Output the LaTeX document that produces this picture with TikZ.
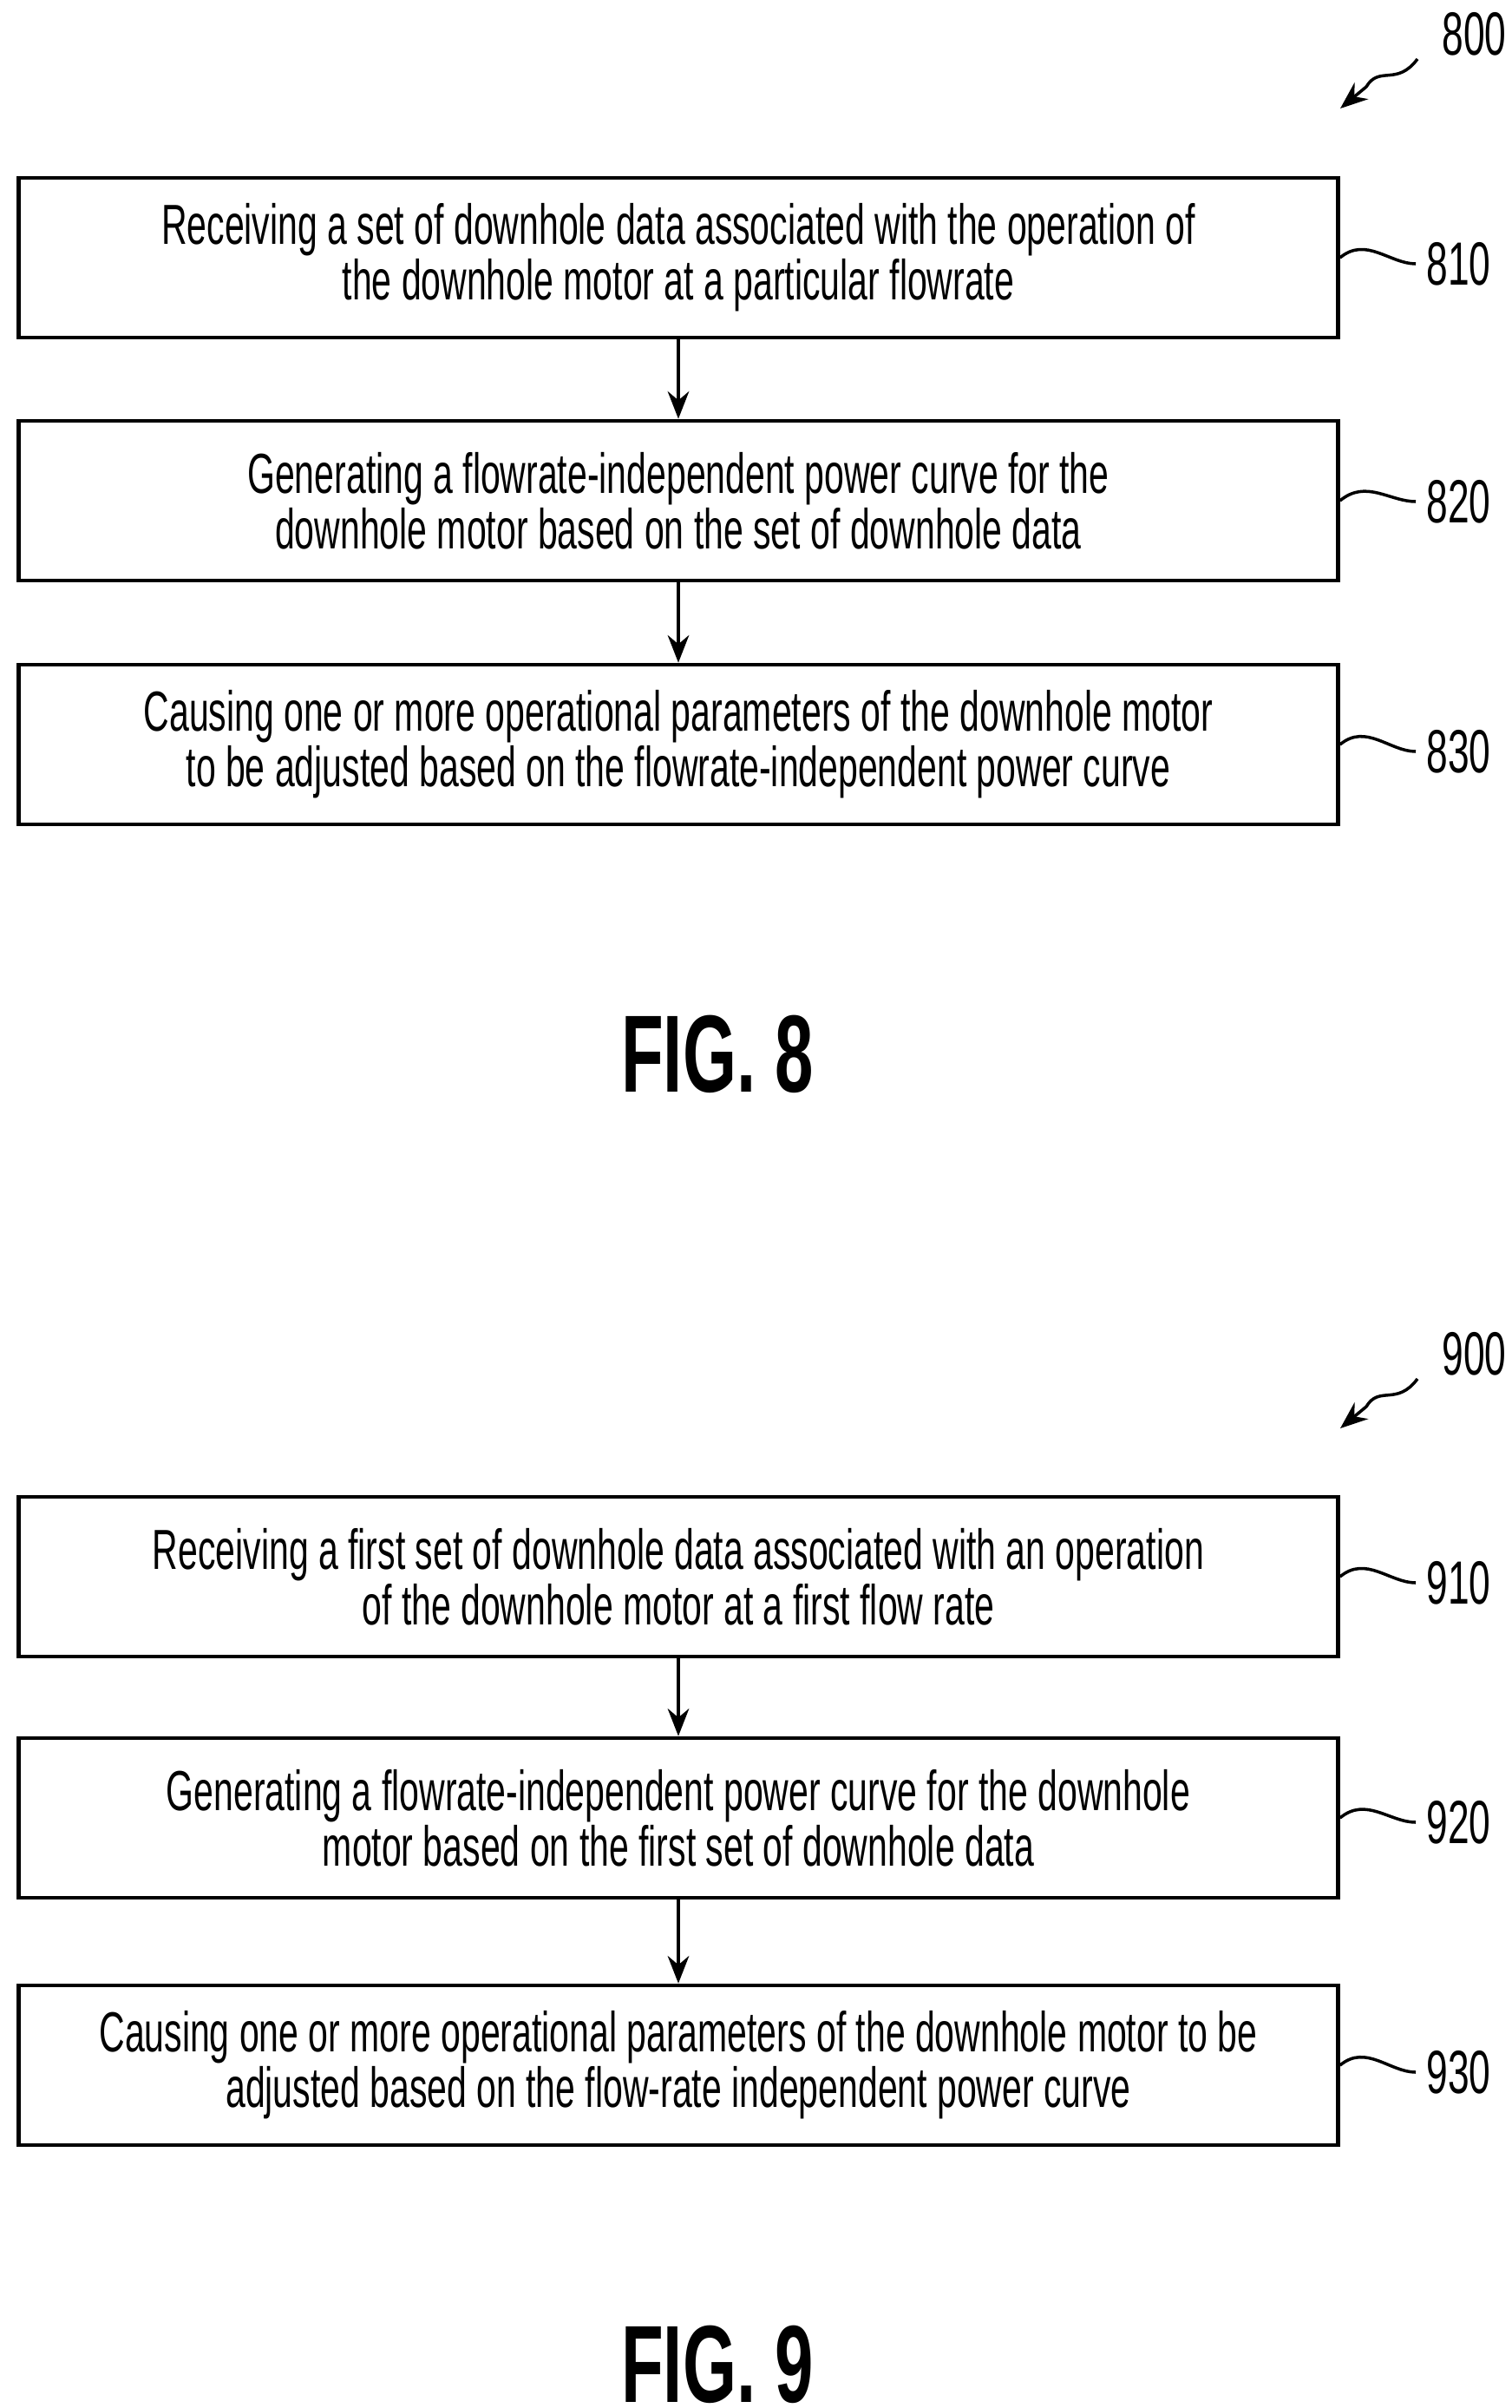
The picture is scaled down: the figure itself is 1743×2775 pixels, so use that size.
\documentclass[tikz,border=0pt]{standalone}
\usepackage{fontspec}
\setmainfont{Liberation Sans}[FakeStretch=0.63]
\usetikzlibrary{positioning,arrows.meta}
\tikzset{
  stepbox/.style={draw, line width=1.3pt, minimum width=15.2cm, minimum height=1.84cm,
    align=center, font=\fontsize{18.5}{17}\selectfont, inner sep=0pt},
  flow/.style={line width=1pt, -{Stealth[length=9pt,width=7pt]}},
  tag/.style={font=\fontsize{20}{24}\selectfont, anchor=west},
  lead/.style={line width=1pt},
  fig/.style={font=\bfseries\fontsize{36}{40}\selectfont}
}
\begin{document}
\begin{tikzpicture}[x=0.01cm, y=-0.01cm]
    \useasboundingbox (0, 0) rectangle (1743, 2775);
    % FIG. 8
    \node[stepbox] (s810) at(782, 297) {Receiving a set of downhole data associated with the operation of\\the downhole motor at a particular flowrate};
    \node[stepbox] (s820) at(782, 577) {Generating a flowrate-independent power curve for the\\downhole motor based on the set of downhole data};
    \node[stepbox] (s830) at(782, 858) {Causing one or more operational parameters of the downhole motor\\to be adjusted based on the flowrate-independent power curve};
    \draw[flow] (s810) -- (s820);
    \draw[flow] (s820) -- (s830);
    \node[tag] (t810) at(1632, 304) {810};
    \node[tag] (t820) at(1632, 578) {820};
    \node[tag] (t830) at(1632, 866) {830};
    \foreach \s in {810, 820, 830}
        \draw[lead] (s\s.east) .. controls +(30, -25) and +(-30, 0) .. (t\s.west);
    \node[tag] (t800) at(1650, 39) {800};
    \coordinate (a800) at(1545, 125);
    \draw[flow] (1634, 68) .. controls (1610, 100) and (1590, 75) .. (1575, 100) -- (a800);
    \node[fig] (fig8) at(827, 1215) {FIG. 8};
    % FIG. 9
    \node[stepbox] (s910) at(782, 1817) {Receiving a first set of downhole data associated with an operation\\of the downhole motor at a first flow rate};
    \node[stepbox] (s920) at(782, 2095) {Generating a flowrate-independent power curve for the downhole\\motor based on the first set of downhole data};
    \node[stepbox] (s930) at(782, 2380) {Causing one or more operational parameters of the downhole motor to be\\adjusted based on the flow-rate independent power curve};
    \draw[flow] (s910) -- (s920);
    \draw[flow] (s920) -- (s930);
    \node[tag] (t910) at(1632, 1824) {910};
    \node[tag] (t920) at(1632, 2100) {920};
    \node[tag] (t930) at(1632, 2388) {930};
    \foreach \s in {910, 920, 930}
        \draw[lead] (s\s.east) .. controls +(30, -25) and +(-30, 0) .. (t\s.west);
    \node[tag] (t900) at(1650, 1560) {900};
    \coordinate (a900) at(1545, 1646);
    \draw[flow] (1634, 1589) .. controls (1610, 1621) and (1590, 1596) .. (1575, 1621) -- (a900);
    \node[fig] (fig9) at(827, 2725) {FIG. 9};
\end{tikzpicture}
\end{document}
